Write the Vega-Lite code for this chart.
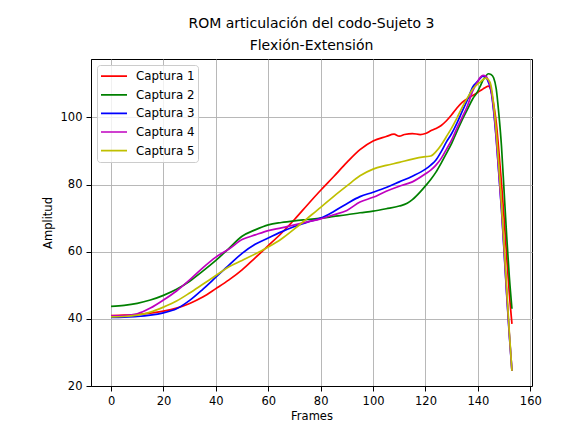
{
  "$schema": "https://vega.github.io/schema/vega-lite/v6.json",
  "width": 441,
  "height": 327,
  "autosize": {"type": "none"},
  "padding": {"left": 91, "top": 59, "right": 56, "bottom": 37},
  "background": "white",
  "title": {
    "text": ["ROM articulación del codo-Sujeto 3", "Flexión-Extensión"],
    "anchor": "middle",
    "frame": "group",
    "font": "DejaVu Sans",
    "fontSize": 14,
    "fontWeight": "normal",
    "color": "#000000",
    "lineHeight": 22,
    "offset": 6
  },
  "config": {
    "view": {"stroke": "#000000", "strokeWidth": 1},
    "axis": {
      "labelFont": "DejaVu Sans",
      "labelFontSize": 11.5,
      "labelColor": "#000000",
      "titleFont": "DejaVu Sans",
      "titleFontSize": 11.5,
      "titleFontWeight": "normal",
      "titleColor": "#000000",
      "domainColor": "#000000",
      "domainWidth": 1,
      "tickColor": "#000000",
      "tickSize": 5,
      "tickWidth": 1,
      "labelPadding": 4,
      "gridColor": "#b0b0b0",
      "gridWidth": 0.9
    },
    "legend": {
      "labelFont": "DejaVu Sans",
      "labelFontSize": 11.8,
      "labelColor": "#000000"
    }
  },
  "data": {
    "values": [
      {"s":"Captura 1","f":0,"v":41.0},{"s":"Captura 1","f":5,"v":41.1},{"s":"Captura 1","f":10,"v":41.3},{"s":"Captura 1","f":15,"v":41.7},{"s":"Captura 1","f":20,"v":42.3},{"s":"Captura 1","f":25,"v":43.2},{"s":"Captura 1","f":30,"v":44.6},{"s":"Captura 1","f":35,"v":46.5},{"s":"Captura 1","f":40,"v":49.0},{"s":"Captura 1","f":45,"v":51.6},{"s":"Captura 1","f":50,"v":54.6},{"s":"Captura 1","f":55,"v":58.2},{"s":"Captura 1","f":60,"v":61.8},{"s":"Captura 1","f":65,"v":65.5},{"s":"Captura 1","f":70,"v":69.6},{"s":"Captura 1","f":75,"v":74.0},{"s":"Captura 1","f":80,"v":78.3},{"s":"Captura 1","f":85,"v":82.4},{"s":"Captura 1","f":90,"v":86.6},{"s":"Captura 1","f":95,"v":90.4},{"s":"Captura 1","f":100,"v":93.0},{"s":"Captura 1","f":105,"v":94.3},{"s":"Captura 1","f":108,"v":95.0},{"s":"Captura 1","f":110,"v":94.4},{"s":"Captura 1","f":112,"v":94.9},{"s":"Captura 1","f":115,"v":95.2},{"s":"Captura 1","f":118,"v":94.9},{"s":"Captura 1","f":120,"v":95.2},{"s":"Captura 1","f":122,"v":96.0},{"s":"Captura 1","f":124,"v":96.7},{"s":"Captura 1","f":126,"v":97.6},{"s":"Captura 1","f":128,"v":99.0},{"s":"Captura 1","f":130,"v":100.8},{"s":"Captura 1","f":132,"v":102.8},{"s":"Captura 1","f":134,"v":104.5},{"s":"Captura 1","f":136,"v":105.6},{"s":"Captura 1","f":138,"v":106.5},{"s":"Captura 1","f":140,"v":107.5},{"s":"Captura 1","f":141,"v":108.0},{"s":"Captura 1","f":142,"v":108.5},{"s":"Captura 1","f":143,"v":109.0},{"s":"Captura 1","f":144,"v":109.3},{"s":"Captura 1","f":145,"v":108.0},{"s":"Captura 1","f":146,"v":104.0},{"s":"Captura 1","f":147,"v":98.5},{"s":"Captura 1","f":148,"v":90.0},{"s":"Captura 1","f":149,"v":80.5},{"s":"Captura 1","f":150,"v":70.0},{"s":"Captura 1","f":151,"v":58.5},{"s":"Captura 1","f":152,"v":47.5},{"s":"Captura 1","f":153,"v":38.5},
      {"s":"Captura 2","f":0,"v":43.7},{"s":"Captura 2","f":5,"v":44.0},{"s":"Captura 2","f":10,"v":44.6},{"s":"Captura 2","f":15,"v":45.6},{"s":"Captura 2","f":20,"v":47.0},{"s":"Captura 2","f":25,"v":48.8},{"s":"Captura 2","f":30,"v":51.2},{"s":"Captura 2","f":35,"v":54.2},{"s":"Captura 2","f":40,"v":57.4},{"s":"Captura 2","f":45,"v":61.0},{"s":"Captura 2","f":50,"v":64.6},{"s":"Captura 2","f":55,"v":66.5},{"s":"Captura 2","f":60,"v":68.0},{"s":"Captura 2","f":65,"v":68.7},{"s":"Captura 2","f":70,"v":69.2},{"s":"Captura 2","f":75,"v":69.6},{"s":"Captura 2","f":80,"v":70.0},{"s":"Captura 2","f":85,"v":70.5},{"s":"Captura 2","f":90,"v":71.0},{"s":"Captura 2","f":95,"v":71.6},{"s":"Captura 2","f":100,"v":72.1},{"s":"Captura 2","f":105,"v":72.8},{"s":"Captura 2","f":110,"v":73.6},{"s":"Captura 2","f":113,"v":74.4},{"s":"Captura 2","f":115,"v":75.5},{"s":"Captura 2","f":118,"v":77.8},{"s":"Captura 2","f":120,"v":79.6},{"s":"Captura 2","f":122,"v":81.5},{"s":"Captura 2","f":124,"v":83.7},{"s":"Captura 2","f":126,"v":86.4},{"s":"Captura 2","f":128,"v":89.3},{"s":"Captura 2","f":130,"v":92.3},{"s":"Captura 2","f":132,"v":95.8},{"s":"Captura 2","f":134,"v":99.3},{"s":"Captura 2","f":136,"v":102.4},{"s":"Captura 2","f":138,"v":105.5},{"s":"Captura 2","f":140,"v":107.8},{"s":"Captura 2","f":141,"v":109.5},{"s":"Captura 2","f":142,"v":111.2},{"s":"Captura 2","f":143,"v":112.3},{"s":"Captura 2","f":144,"v":113.0},{"s":"Captura 2","f":145,"v":112.8},{"s":"Captura 2","f":146,"v":111.8},{"s":"Captura 2","f":147,"v":108.5},{"s":"Captura 2","f":148,"v":101.0},{"s":"Captura 2","f":149,"v":91.5},{"s":"Captura 2","f":150,"v":78.0},{"s":"Captura 2","f":151,"v":64.5},{"s":"Captura 2","f":152,"v":52.5},{"s":"Captura 2","f":153,"v":43.0},
      {"s":"Captura 3","f":0,"v":40.4},{"s":"Captura 3","f":5,"v":40.5},{"s":"Captura 3","f":10,"v":40.7},{"s":"Captura 3","f":15,"v":41.1},{"s":"Captura 3","f":20,"v":41.8},{"s":"Captura 3","f":25,"v":43.0},{"s":"Captura 3","f":30,"v":45.5},{"s":"Captura 3","f":35,"v":48.8},{"s":"Captura 3","f":40,"v":52.4},{"s":"Captura 3","f":45,"v":56.0},{"s":"Captura 3","f":50,"v":59.5},{"s":"Captura 3","f":55,"v":62.2},{"s":"Captura 3","f":60,"v":64.1},{"s":"Captura 3","f":65,"v":65.9},{"s":"Captura 3","f":70,"v":67.5},{"s":"Captura 3","f":75,"v":68.8},{"s":"Captura 3","f":80,"v":70.0},{"s":"Captura 3","f":85,"v":72.0},{"s":"Captura 3","f":90,"v":74.3},{"s":"Captura 3","f":95,"v":76.4},{"s":"Captura 3","f":100,"v":77.7},{"s":"Captura 3","f":105,"v":79.1},{"s":"Captura 3","f":110,"v":80.8},{"s":"Captura 3","f":115,"v":82.5},{"s":"Captura 3","f":120,"v":84.6},{"s":"Captura 3","f":122,"v":85.8},{"s":"Captura 3","f":124,"v":87.3},{"s":"Captura 3","f":126,"v":89.8},{"s":"Captura 3","f":128,"v":92.7},{"s":"Captura 3","f":130,"v":95.2},{"s":"Captura 3","f":132,"v":98.3},{"s":"Captura 3","f":134,"v":101.8},{"s":"Captura 3","f":136,"v":105.2},{"s":"Captura 3","f":138,"v":109.0},{"s":"Captura 3","f":140,"v":110.8},{"s":"Captura 3","f":141,"v":111.8},{"s":"Captura 3","f":142,"v":112.3},{"s":"Captura 3","f":143,"v":112.0},{"s":"Captura 3","f":144,"v":110.5},{"s":"Captura 3","f":145,"v":108.0},{"s":"Captura 3","f":146,"v":102.0},{"s":"Captura 3","f":147,"v":93.5},{"s":"Captura 3","f":148,"v":83.0},{"s":"Captura 3","f":149,"v":72.5},{"s":"Captura 3","f":150,"v":60.0},{"s":"Captura 3","f":151,"v":47.0},{"s":"Captura 3","f":152,"v":35.0},{"s":"Captura 3","f":153,"v":24.5},
      {"s":"Captura 4","f":0,"v":40.9},{"s":"Captura 4","f":5,"v":41.0},{"s":"Captura 4","f":10,"v":41.5},{"s":"Captura 4","f":15,"v":43.2},{"s":"Captura 4","f":20,"v":45.6},{"s":"Captura 4","f":25,"v":48.3},{"s":"Captura 4","f":30,"v":51.6},{"s":"Captura 4","f":35,"v":55.2},{"s":"Captura 4","f":40,"v":58.4},{"s":"Captura 4","f":45,"v":60.8},{"s":"Captura 4","f":50,"v":63.6},{"s":"Captura 4","f":55,"v":65.0},{"s":"Captura 4","f":60,"v":66.3},{"s":"Captura 4","f":65,"v":67.1},{"s":"Captura 4","f":70,"v":68.0},{"s":"Captura 4","f":75,"v":68.9},{"s":"Captura 4","f":80,"v":69.8},{"s":"Captura 4","f":85,"v":71.0},{"s":"Captura 4","f":90,"v":72.3},{"s":"Captura 4","f":95,"v":74.8},{"s":"Captura 4","f":100,"v":76.2},{"s":"Captura 4","f":105,"v":78.0},{"s":"Captura 4","f":110,"v":79.5},{"s":"Captura 4","f":115,"v":80.8},{"s":"Captura 4","f":120,"v":83.2},{"s":"Captura 4","f":122,"v":84.3},{"s":"Captura 4","f":124,"v":85.8},{"s":"Captura 4","f":126,"v":87.8},{"s":"Captura 4","f":128,"v":90.5},{"s":"Captura 4","f":130,"v":93.3},{"s":"Captura 4","f":132,"v":96.8},{"s":"Captura 4","f":134,"v":100.0},{"s":"Captura 4","f":136,"v":103.4},{"s":"Captura 4","f":138,"v":107.8},{"s":"Captura 4","f":140,"v":110.8},{"s":"Captura 4","f":141,"v":112.0},{"s":"Captura 4","f":142,"v":112.5},{"s":"Captura 4","f":143,"v":112.3},{"s":"Captura 4","f":144,"v":111.0},{"s":"Captura 4","f":145,"v":108.5},{"s":"Captura 4","f":146,"v":102.5},{"s":"Captura 4","f":147,"v":94.0},{"s":"Captura 4","f":148,"v":83.5},{"s":"Captura 4","f":149,"v":73.0},{"s":"Captura 4","f":150,"v":60.5},{"s":"Captura 4","f":151,"v":47.5},{"s":"Captura 4","f":152,"v":35.5},{"s":"Captura 4","f":153,"v":24.5},
      {"s":"Captura 5","f":0,"v":40.6},{"s":"Captura 5","f":5,"v":40.7},{"s":"Captura 5","f":10,"v":41.1},{"s":"Captura 5","f":15,"v":42.0},{"s":"Captura 5","f":20,"v":43.5},{"s":"Captura 5","f":25,"v":45.3},{"s":"Captura 5","f":30,"v":47.7},{"s":"Captura 5","f":35,"v":50.3},{"s":"Captura 5","f":40,"v":52.9},{"s":"Captura 5","f":45,"v":55.5},{"s":"Captura 5","f":50,"v":57.4},{"s":"Captura 5","f":55,"v":59.3},{"s":"Captura 5","f":60,"v":61.4},{"s":"Captura 5","f":65,"v":63.8},{"s":"Captura 5","f":70,"v":66.8},{"s":"Captura 5","f":75,"v":70.0},{"s":"Captura 5","f":80,"v":73.2},{"s":"Captura 5","f":85,"v":76.5},{"s":"Captura 5","f":90,"v":79.6},{"s":"Captura 5","f":95,"v":82.6},{"s":"Captura 5","f":100,"v":84.6},{"s":"Captura 5","f":105,"v":85.7},{"s":"Captura 5","f":110,"v":86.6},{"s":"Captura 5","f":115,"v":87.6},{"s":"Captura 5","f":120,"v":88.3},{"s":"Captura 5","f":122,"v":88.5},{"s":"Captura 5","f":124,"v":89.8},{"s":"Captura 5","f":126,"v":91.8},{"s":"Captura 5","f":128,"v":94.3},{"s":"Captura 5","f":130,"v":96.9},{"s":"Captura 5","f":132,"v":99.8},{"s":"Captura 5","f":134,"v":103.0},{"s":"Captura 5","f":136,"v":105.8},{"s":"Captura 5","f":138,"v":108.4},{"s":"Captura 5","f":140,"v":110.0},{"s":"Captura 5","f":141,"v":110.6},{"s":"Captura 5","f":142,"v":111.3},{"s":"Captura 5","f":143,"v":111.7},{"s":"Captura 5","f":144,"v":111.3},{"s":"Captura 5","f":145,"v":109.5},{"s":"Captura 5","f":146,"v":104.0},{"s":"Captura 5","f":147,"v":96.0},{"s":"Captura 5","f":148,"v":85.5},{"s":"Captura 5","f":149,"v":74.5},{"s":"Captura 5","f":150,"v":62.0},{"s":"Captura 5","f":151,"v":49.0},{"s":"Captura 5","f":152,"v":36.0},{"s":"Captura 5","f":153,"v":24.5}
    ]
  },
  "mark": {"type": "line", "strokeWidth": 1.7, "interpolate": "monotone", "clip": true},
  "encoding": {
    "x": {
      "field": "f",
      "type": "quantitative",
      "scale": {"domain": [-7.65, 160.65], "nice": false, "zero": false},
      "axis": {"values": [0, 20, 40, 60, 80, 100, 120, 140, 160], "title": "Frames", "titlePadding": 4, "grid": true}
    },
    "y": {
      "field": "v",
      "type": "quantitative",
      "scale": {"domain": [20, 117.4], "nice": false, "zero": false},
      "axis": {"values": [20, 40, 60, 80, 100], "title": "Amplitud", "titlePadding": 7, "grid": true}
    },
    "color": {
      "field": "s",
      "type": "nominal",
      "scale": {
        "domain": ["Captura 1", "Captura 2", "Captura 3", "Captura 4", "Captura 5"],
        "range": ["#ff0000", "#008000", "#0000ff", "#bf00bf", "#bfbf00"]
      },
      "legend": {
        "title": null,
        "orient": "top-left",
        "offset": 6,
        "padding": 3,
        "symbolType": "stroke",
        "symbolSize": 676,
        "symbolStrokeWidth": 1.7,
        "clipHeight": 16.4,
        "rowPadding": 1.6,
        "labelOffset": 8,
        "strokeColor": "#cccccc",
        "fillColor": "rgba(255,255,255,0.8)",
        "cornerRadius": 3
      }
    }
  }
}
